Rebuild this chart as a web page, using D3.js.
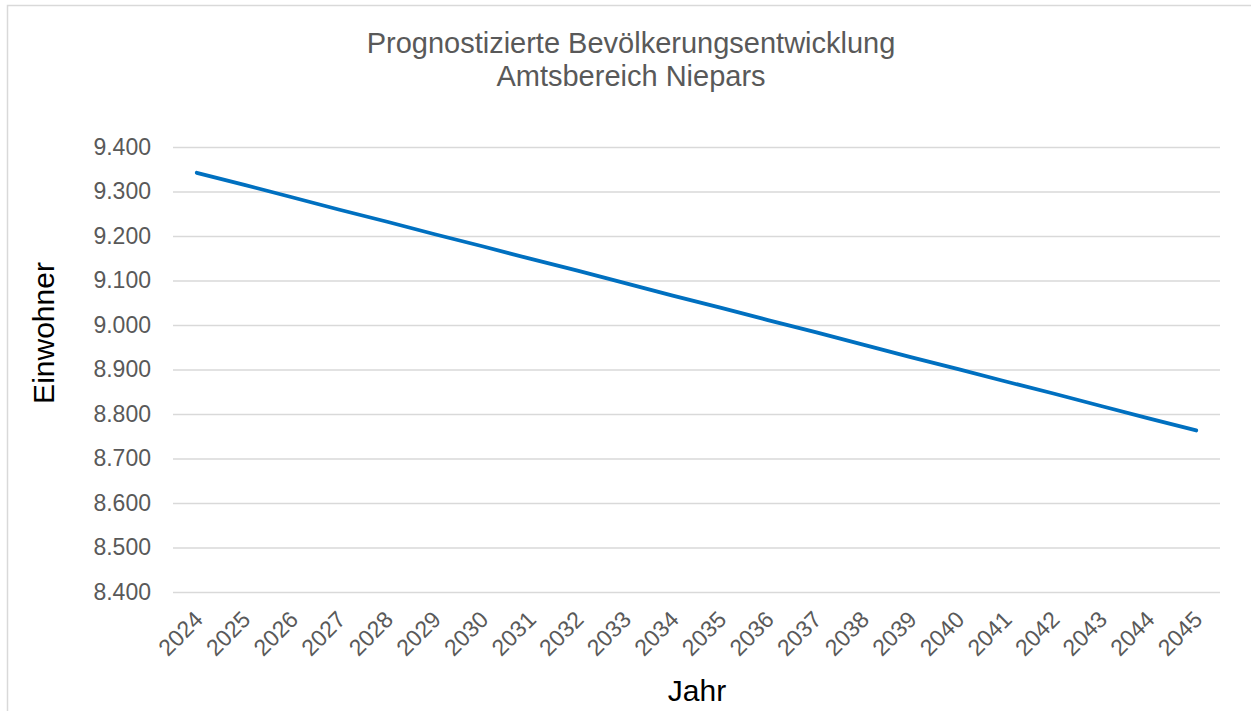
<!DOCTYPE html>
<html>
<head>
<meta charset="utf-8">
<script src="https://cdn.jsdelivr.net/npm/d3@7"></script>
<style>
  body { margin: 0; background: #fff; }
  svg { display: block; font-family: "Liberation Sans", Arial, sans-serif; }
</style>
</head>
<body>
<div id="chart"></div>
<script>
// Jahre und prognostizierte Einwohnerzahlen
let years = ["2024", "2025", "2026", "2027", "2028", "2029", "2030", "2031", "2032", "2033", "2034",
             "2035", "2036", "2037", "2038", "2039", "2040", "2041", "2042", "2043", "2044", "2045"];
let einwohner = [9342, 9315, 9287, 9259, 9232, 9204, 9177, 9149, 9122, 9094, 9066,
                 9039, 9011, 8984, 8956, 8928, 8901, 8873, 8846, 8818, 8790, 8763];
let yTicks = [8400, 8500, 8600, 8700, 8800, 8900, 9000, 9100, 9200, 9300, 9400];
let titleLines = ["Prognostizierte Bevölkerungsentwicklung", "Amtsbereich Niepars"];

let width = 1251, height = 711;
let margin = {top: 147, bottom: 119, left: 173, right: 31};

let svg = d3.select("#chart").append("svg")
    .attr("width", width)
    .attr("height", height);

// Rahmen des Diagrammbereichs
svg.append("rect")
    .attr("x", 7.5).attr("y", 5.5)
    .attr("width", width).attr("height", height)
    .attr("fill", "none")
    .attr("stroke", "#d9d9d9")
    .attr("stroke-width", 1.5);

let xScale = d3.scalePoint()
    .domain(years)
    .range([margin.left, width - margin.right])
    .padding(0.5);

let yScale = d3.scaleLinear()
    .domain([8400, 9400])
    .range([height - margin.bottom, margin.top]);

let fmt = d3.formatLocale({decimal: ",", thousands: ".", grouping: [3], currency: ["", " €"]}).format(",d");

// Gitternetz und y-Achse
let yAxis = svg.append("g")
    .attr("transform", "translate(" + margin.left + ",0)")
    .call(d3.axisLeft(yScale).tickValues(yTicks).tickFormat(fmt)
        .tickSize(-(width - margin.left - margin.right)).tickPadding(22));
yAxis.select(".domain").remove();
yAxis.selectAll(".tick line").attr("stroke", "#d9d9d9").attr("stroke-width", 1.5);
yAxis.selectAll(".tick text")
    .attr("fill", "#595959")
    .style("font-size", "23px");

// x-Achse, Beschriftung um 45 Grad gedreht
let xAxis = svg.append("g")
    .attr("transform", "translate(0," + (height - margin.bottom) + ")")
    .call(d3.axisBottom(xScale).tickSize(0));
xAxis.select(".domain").remove();
xAxis.selectAll(".tick text")
    .attr("fill", "#595959")
    .style("font-size", "23px")
    .attr("text-anchor", "end")
    .attr("dy", 0)
    .attr("y", 0)
    .attr("transform", "translate(7,29) rotate(-45)");

// Linie
let line = d3.line()
    .x((d, i) => xScale(years[i]))
    .y(d => yScale(d));

svg.append("path")
    .datum(einwohner)
    .attr("d", line)
    .attr("fill", "none")
    .attr("stroke", "#0070c0")
    .attr("stroke-width", 3.8)
    .attr("stroke-linecap", "round")
    .attr("stroke-linejoin", "round");

// Titel
svg.append("g").selectAll("text")
    .data(titleLines)
    .enter().append("text")
    .attr("x", 631)
    .attr("y", (d, i) => 53 + i * 33)
    .attr("text-anchor", "middle")
    .attr("fill", "#595959")
    .style("font-size", "29px")
    .text(d => d);

// Achsentitel
svg.append("text")
    .attr("transform", "translate(54,333) rotate(-90)")
    .attr("text-anchor", "middle")
    .attr("fill", "#000")
    .style("font-size", "30px")
    .text("Einwohner");

svg.append("text")
    .attr("x", 697)
    .attr("y", 701)
    .attr("text-anchor", "middle")
    .attr("fill", "#000")
    .style("font-size", "30px")
    .text("Jahr");
</script>
</body>
</html>
